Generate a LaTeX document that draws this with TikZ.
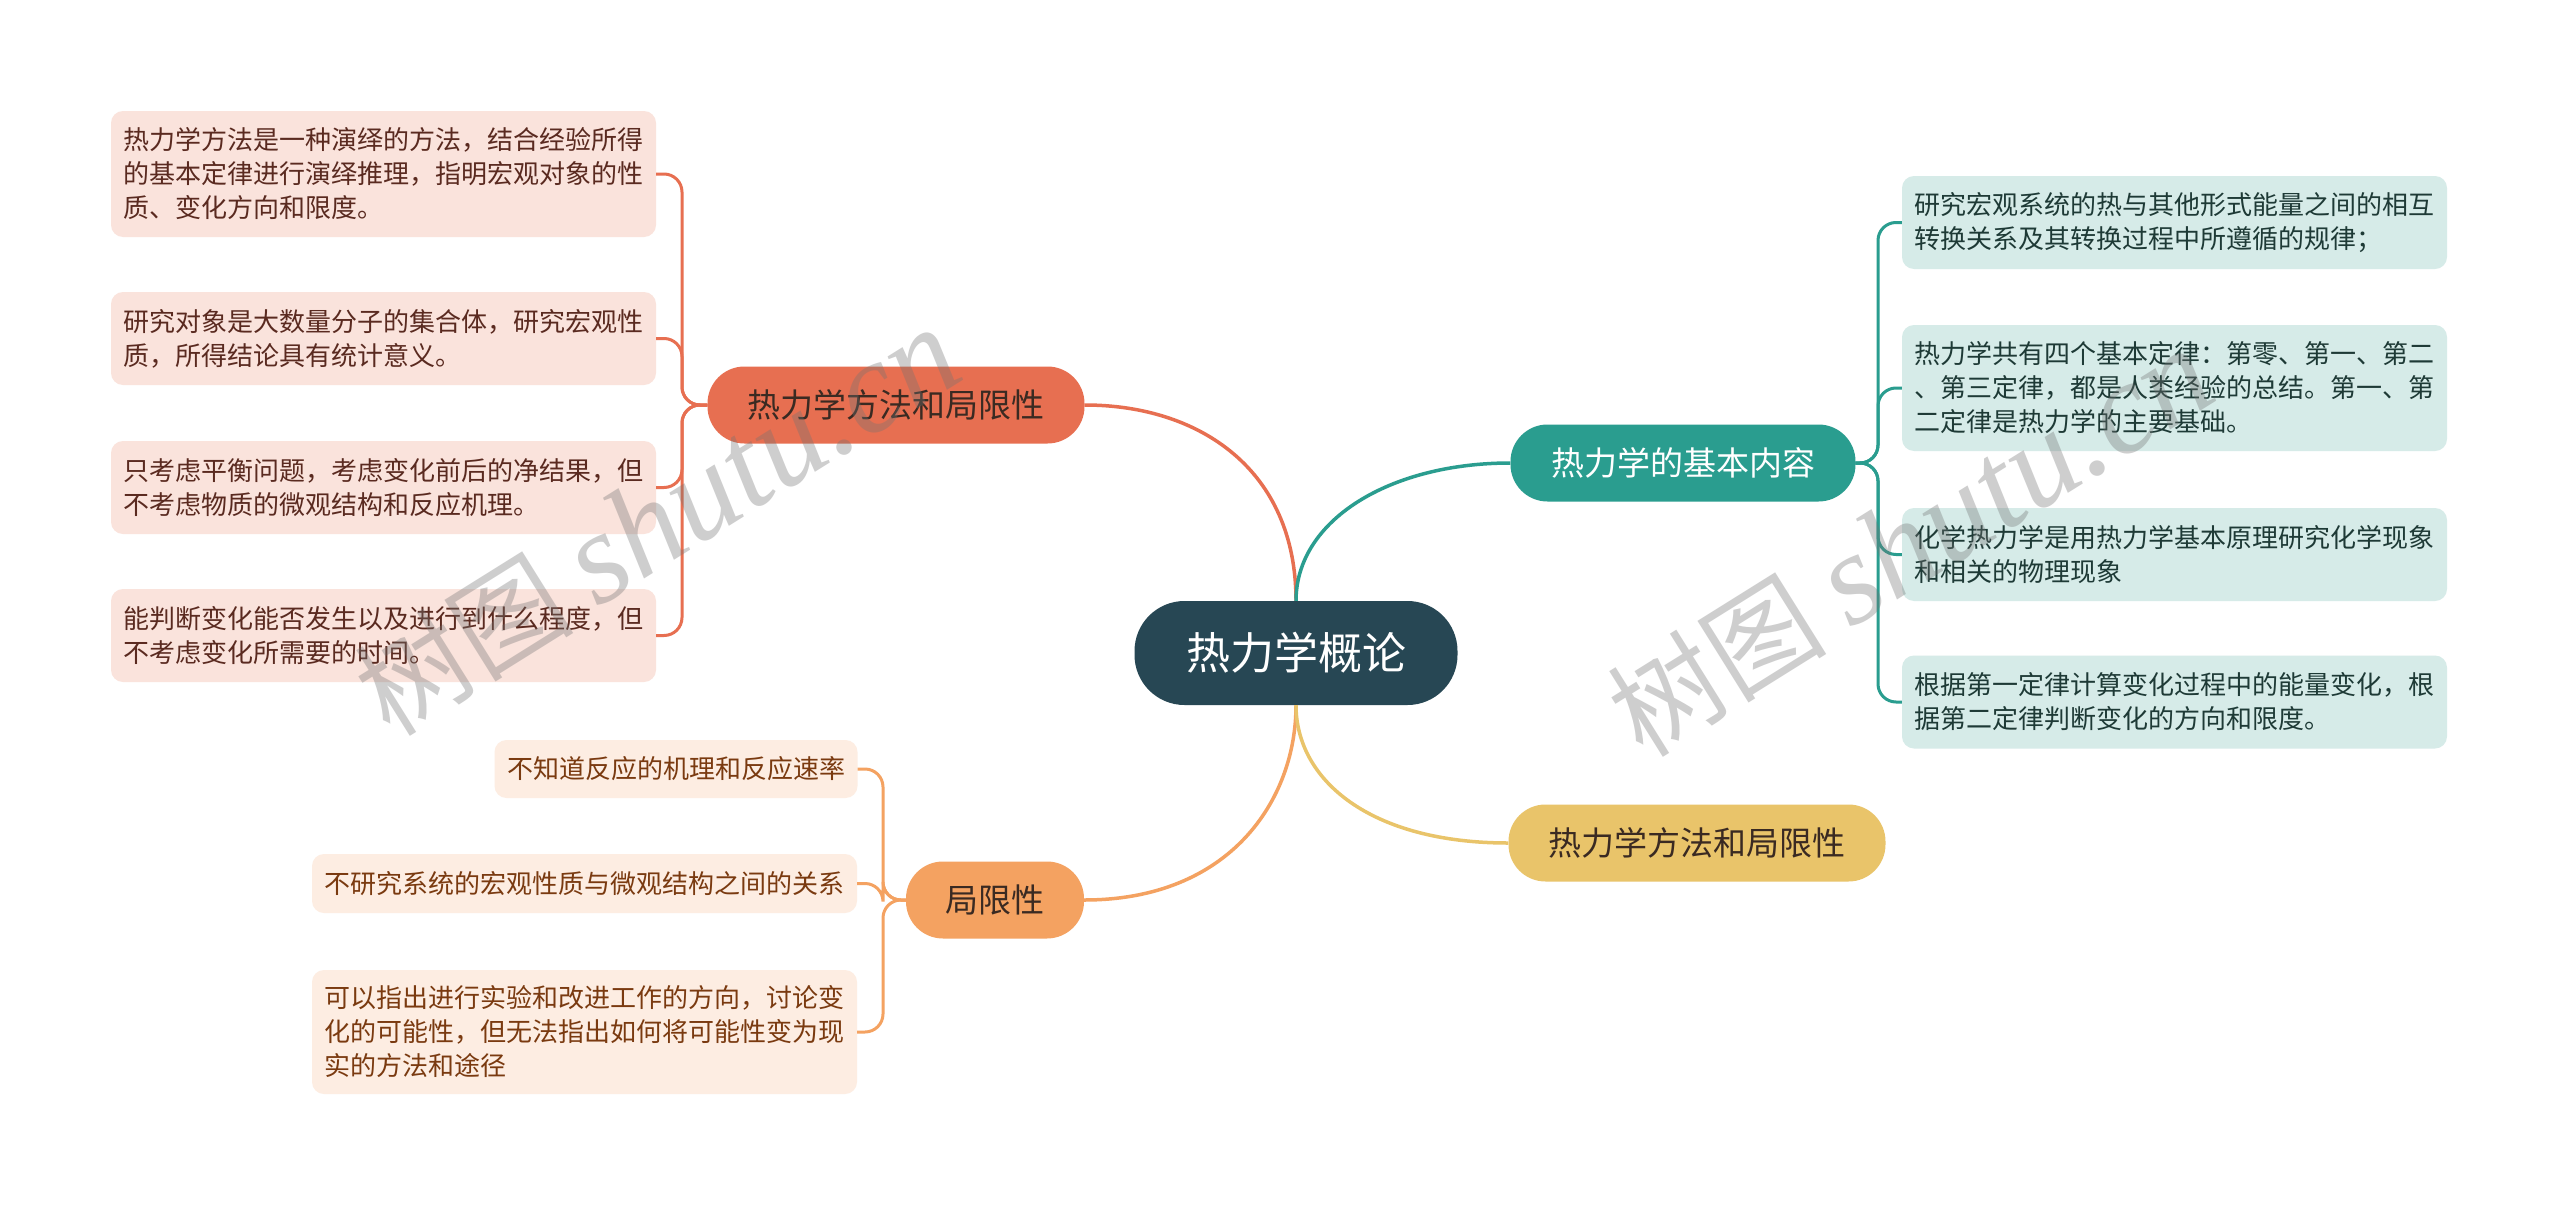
\documentclass[tikz,border=0pt]{standalone}
\usepackage{fontspec}
\setmainfont{Noto Sans CJK SC}
\newfontfamily\wmlatin{Liberation Serif}
\definecolor{cdark}{HTML}{274754}
\definecolor{cred}{HTML}{E76F51}
\definecolor{cteal}{HTML}{2A9D8F}
\definecolor{cyel}{HTML}{E9C46A}
\definecolor{corg}{HTML}{F4A261}
\definecolor{lred}{HTML}{FAE3DC}
\definecolor{lteal}{HTML}{D6EBE8}
\definecolor{lorg}{HTML}{FDEDE2}
\definecolor{tred}{HTML}{5A2A20}
\definecolor{tteal}{HTML}{1E3A36}
\definecolor{torg}{HTML}{7A3A10}
\definecolor{tmain}{HTML}{3A2A22}
\begin{document}
\begin{tikzpicture}[x=1pt,y=-1pt,
  rootbox/.style={fill=cdark, text=white, rounded corners=50pt, minimum width=323pt, minimum height=104pt, inner sep=0pt, font=\fontsize{44}{50}\selectfont},
  mainbox/.style={rounded corners=37pt, minimum height=77pt, inner sep=0pt, font=\fontsize{33}{40}\selectfont},
  leafbox/.style={rounded corners=12pt, inner xsep=12.5pt, inner ysep=0pt, align=left, font=\fontsize{26}{34}\selectfont},
  wide/.style={text width=520pt, minimum width=545pt},
  link/.style={line width=3.5pt},
  sub/.style={line width=3pt, rounded corners=18pt},
  wm/.style={text=black!55, opacity=0.35, rotate=32, inner sep=0pt}
]
\useasboundingbox[fill=white] (0,0) rectangle (2560,1207);

% root
\node[rootbox] (root) at (1296,653) {热力学概论};

% main branches
\node[mainbox, fill=cred, text=tmain, minimum width=377pt] (m1) at (896,405) {热力学方法和局限性};
\node[mainbox, fill=cteal, text=white, minimum width=345pt] (m2) at (1683,463) {热力学的基本内容};
\node[mainbox, fill=cyel, text=tmain, minimum width=377pt] (m3) at (1697,843) {热力学方法和局限性};
\node[mainbox, fill=corg, text=tmain, minimum width=178pt] (m4) at (995,900) {局限性};

% left-top leaves
\node[leafbox, wide, fill=lred, text=tred, minimum height=126pt] (a1) at (383.5,174) {热力学方法是一种演绎的方法，结合经验所得\\的基本定律进行演绎推理，指明宏观对象的性\\质、变化方向和限度。};
\node[leafbox, wide, fill=lred, text=tred, minimum height=93pt] (a2) at (383.5,338.5) {研究对象是大数量分子的集合体，研究宏观性\\质，所得结论具有统计意义。};
\node[leafbox, wide, fill=lred, text=tred, minimum height=93pt] (a3) at (383.5,487.5) {只考虑平衡问题，考虑变化前后的净结果，但\\不考虑物质的微观结构和反应机理。};
\node[leafbox, wide, fill=lred, text=tred, minimum height=93pt] (a4) at (383.5,635.5) {能判断变化能否发生以及进行到什么程度，但\\不考虑变化所需要的时间。};

% right leaves
\node[leafbox, wide, fill=lteal, text=tteal, minimum height=93pt] (b1) at (2174.5,222.5) {研究宏观系统的热与其他形式能量之间的相互\\转换关系及其转换过程中所遵循的规律；};
\node[leafbox, wide, fill=lteal, text=tteal, minimum height=126pt] (b2) at (2174.5,388) {热力学共有四个基本定律：第零、第一、第二\\、第三定律，都是人类经验的总结。第一、第\\二定律是热力学的主要基础。};
\node[leafbox, wide, fill=lteal, text=tteal, minimum height=93pt] (b3) at (2174.5,554.5) {化学热力学是用热力学基本原理研究化学现象\\和相关的物理现象};
\node[leafbox, wide, fill=lteal, text=tteal, minimum height=93pt] (b4) at (2174.5,702) {根据第一定律计算变化过程中的能量变化，根\\据第二定律判断变化的方向和限度。};

% bottom-left leaves
\node[leafbox, fill=lorg, text=torg, minimum width=362pt, minimum height=58pt] (c1) at (676,769) {不知道反应的机理和反应速率};
\node[leafbox, wide, fill=lorg, text=torg, minimum height=59pt] (c2) at (584.5,883.5) {不研究系统的宏观性质与微观结构之间的关系};
\node[leafbox, wide, fill=lorg, text=torg, minimum height=124pt] (c3) at (584.5,1032) {可以指出进行实验和改进工作的方向，讨论变\\化的可能性，但无法指出如何将可能性变为现\\实的方法和途径};

% root connectors
\draw[link, draw=cred] (root.north) .. controls (1296,470) and (1200,405) .. (m1.east);
\draw[link, draw=cteal] (root.north) .. controls (1296,520) and (1390,463) .. (m2.west);
\draw[link, draw=corg] (root.south) .. controls (1296,800) and (1230,900) .. (m4.east);
\draw[link, draw=cyel] (root.south) .. controls (1296,780) and (1370,843) .. (m3.west);

% sub connectors
\foreach \n in {a1,a2,a3,a4} \draw[sub, draw=cred] (m1.west) -- (682,405) |- (\n.east);
\foreach \n in {b1,b2,b3,b4} \draw[sub, draw=cteal] (m2.east) -- (1878,463) |- (\n.west);
\foreach \n in {c1,c2,c3} \draw[sub, draw=corg] (m4.west) -- (883,900) |- (\n.east);

% watermarks
\node[wm] (w1) at (657,522) {\fontsize{110}{120}\selectfont 树图 {\wmlatin\itshape\fontsize{130}{140}\selectfont shutu.cn}};
\node[wm] (w2) at (1910,543) {\fontsize{110}{120}\selectfont 树图 {\wmlatin\itshape\fontsize{130}{140}\selectfont shutu.cn}};
\end{tikzpicture}
\end{document}
